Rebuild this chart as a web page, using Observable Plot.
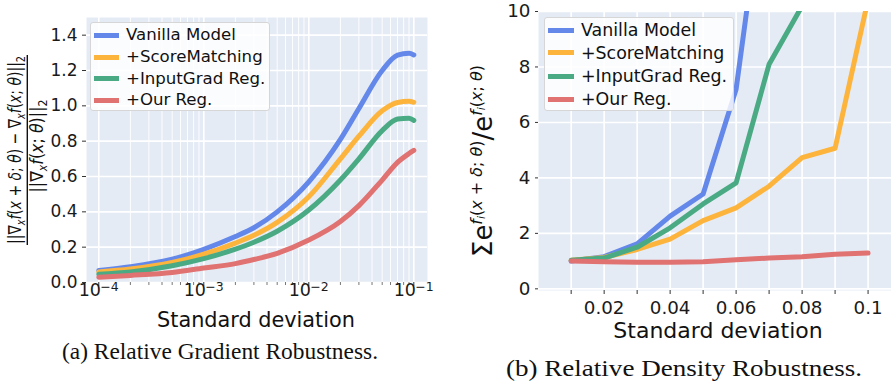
<!DOCTYPE html>
<html><head><meta charset="utf-8">
<script src="https://cdn.jsdelivr.net/npm/d3@7"></script>
<script src="https://cdn.jsdelivr.net/npm/@observablehq/plot@0.6"></script>
<style>
html,body{margin:0;padding:0;background:#fff;}
#root{position:relative;width:891px;height:381px;overflow:hidden;font-family:"DejaVu Sans",sans-serif;}
.panel{position:absolute;top:0;}
.legend{position:absolute;background:rgba(255,255,255,0.82);border:1px solid #d6d6d6;border-radius:3px;box-sizing:border-box;}
.legend .row{position:absolute;left:0;white-space:nowrap;color:#111;}
.legend .sw{position:absolute;height:5px;}
#overlay{position:absolute;left:0;top:0;}
</style></head><body><div id="root"></div>
<script>
// ---------- data ----------
const seriesNames = ["Vanilla Model", "+ScoreMatching", "+InputGrad Reg.", "+Our Reg."];
const seriesColors = ["#6488ea", "#fdb43c", "#4aaa84", "#e07272"];

// (a) Relative gradient robustness (log x)
const gradSigma   = [1e-4, 2e-4, 5e-4, 1e-3, 2e-3, 3e-3, 5e-3, 1e-2, 2e-2, 3e-2, 5e-2, 7e-2, 9e-2, 1e-1];
const gradVanilla = [0.068, 0.089, 0.132, 0.188, 0.260, 0.310, 0.400, 0.570, 0.810, 0.985, 1.200, 1.287, 1.297, 1.288];
const gradScore   = [0.060, 0.076, 0.113, 0.160, 0.223, 0.267, 0.340, 0.485, 0.700, 0.828, 0.972, 1.019, 1.026, 1.020];
const gradInput   = [0.047, 0.060, 0.095, 0.135, 0.189, 0.228, 0.290, 0.410, 0.580, 0.700, 0.860, 0.925, 0.930, 0.918];
const gradOurs    = [0.030, 0.040, 0.057, 0.082, 0.107, 0.130, 0.165, 0.240, 0.345, 0.435, 0.580, 0.680, 0.730, 0.748];
const gradMajorTicks = [1e-4, 1e-3, 1e-2, 1e-1];
const gradTickBase = "10";
const gradTickExps = ["\u22124", "\u22123", "\u22122", "\u22121"];
const gradMinorTicks = [2e-4,3e-4,4e-4,5e-4,6e-4,7e-4,8e-4,9e-4,
                        2e-3,3e-3,4e-3,5e-3,6e-3,7e-3,8e-3,9e-3,
                        2e-2,3e-2,4e-2,5e-2,6e-2,7e-2,8e-2,9e-2];
const gradYTicks = [0, 0.2, 0.4, 0.6, 0.8, 1.0, 1.2, 1.4];

// (b) Relative density robustness (linear x)
const densSigma   = [0.01, 0.02, 0.03, 0.04, 0.05, 0.06, 0.07, 0.08, 0.09, 0.10];
const densVanilla = [1.00, 1.16, 1.62, 2.62, 3.42, 7.20, 16.0];
const densScore   = [1.03, 1.13, 1.42, 1.79, 2.46, 2.92, 3.70, 4.73, 5.07, 10.43];
const densInput   = [1.03, 1.11, 1.50, 2.20, 3.06, 3.82, 8.10, 10.2];
const densOurs    = [1.00, 0.98, 0.96, 0.96, 0.98, 1.05, 1.11, 1.16, 1.25, 1.29];
const densXTicks = [0.01, 0.02, 0.03, 0.04, 0.05, 0.06, 0.07, 0.08, 0.09, 0.10];
const densXLabelTicks = [0.02, 0.04, 0.06, 0.08, 0.10];
const densXLabels = ["0.02", "0.04", "0.06", "0.08", "0.1"];
const densYTicks = [0, 2, 4, 6, 8, 10];

const xTitle = "Standard deviation";
const captionA = "(a) Relative Gradient Robustness.";
const captionB = "(b) Relative Density Robustness.";

// ---------- build ----------
const BG = "#e5ebf5";
const root = document.getElementById("root");
function toRows(xs, ys, name) { return ys.map((v, i) => ({x: xs[i], y: v, s: name})); }
const gradSeries = [gradVanilla, gradScore, gradInput, gradOurs];
const densSeries = [densVanilla, densScore, densInput, densOurs];

const left = Plot.plot({
  width: 450, height: 330,
  marginLeft: 86, marginRight: 23, marginTop: 17, marginBottom: 48,
  style: {fontFamily: "DejaVu Sans", fontSize: "17px", color: "#1a1a1a", background: "transparent", overflow: "visible"},
  x: {type: "log", domain: [7.64e-5, 0.135]},
  y: {domain: [0, 1.5]},
  marks: [
    Plot.frame({fill: BG, stroke: null}),
    Plot.ruleX(gradMinorTicks, {stroke: "white", strokeWidth: 0.9}),
    Plot.ruleX(gradMajorTicks, {stroke: "white", strokeWidth: 1.6}),
    Plot.ruleY(gradYTicks, {stroke: "white", strokeWidth: 1.6}),
    Plot.axisX(gradMinorTicks, {tickFormat: () => "", tickSize: 3, stroke: "#777", label: null}),
    Plot.axisX(gradMajorTicks, {tickFormat: () => "", tickSize: 4, stroke: "#333", label: null}),
    Plot.text(gradMajorTicks, {x: d => d, frameAnchor: "bottom", text: () => gradTickBase, dx: -9, dy: 13.5, fontSize: 17.5, fill: "#1a1a1a"}),
    Plot.text(gradMajorTicks, {x: d => d, frameAnchor: "bottom", text: (d, i) => gradTickExps[i], textAnchor: "start", dx: 1.5, dy: 8.5, fontSize: 12.5, fill: "#1a1a1a"}),
    Plot.axisY(gradYTicks, {tickFormat: d3.format(".1f"), tickSize: 4, tickPadding: 5, stroke: "#333", label: null, fontSize: 17}),
    ...gradSeries.map((ys, k) => Plot.line(toRows(gradSigma, ys, seriesNames[k]), {x: "x", y: "y", stroke: seriesColors[k], strokeWidth: 5, curve: "monotone-x"}))
  ]
});
left.classList.add("panel");
left.style.left = "0px";
root.appendChild(left);

const right = Plot.plot({
  width: 441, height: 340,
  marginLeft: 88, marginRight: 0, marginTop: 11, marginBottom: 50,
  style: {fontFamily: "DejaVu Sans", fontSize: "18px", color: "#1a1a1a", background: "transparent", overflow: "visible"},
  x: {domain: [0.0001, 0.1071]},
  y: {domain: [-0.06, 10]},
  marks: [
    Plot.frame({fill: BG, stroke: null}),
    Plot.ruleX(densXTicks, {stroke: "white", strokeWidth: 1.6}),
    Plot.ruleY(densYTicks, {stroke: "white", strokeWidth: 1.6}),
    Plot.axisX(densXTicks, {tickFormat: () => "", tickSize: 4, stroke: "#333", label: null}),
    Plot.axisX(densXLabelTicks, {tickFormat: d => densXLabels[densXLabelTicks.indexOf(d)], tickSize: 0, tickPadding: 10, label: null, fontSize: 18.3}),
    Plot.axisY(densYTicks, {tickFormat: d => String(d), tickSize: 3, tickPadding: 5, stroke: "#333", label: null, fontSize: 18.3}),
    ...densSeries.map((ys, k) => Plot.line(toRows(densSigma, ys, seriesNames[k]), {x: "x", y: "y", stroke: seriesColors[k], strokeWidth: 5, clip: true}))
  ]
});
right.classList.add("panel");
right.style.left = "450px";
root.appendChild(right);

// legends
function legend(box, fontSize, rowY, swX0, swX1, textX) {
  const d = document.createElement("div");
  d.className = "legend";
  Object.assign(d.style, {left: box[0] + "px", top: box[1] + "px", width: box[2] + "px", height: box[3] + "px"});
  seriesNames.forEach((name, k) => {
    const sw = document.createElement("div");
    sw.className = "sw";
    Object.assign(sw.style, {left: swX0 + "px", width: (swX1 - swX0) + "px", top: (rowY[k] - 2.5) + "px", background: seriesColors[k]});
    d.appendChild(sw);
    const t = document.createElement("div");
    t.className = "row";
    t.textContent = name;
    Object.assign(t.style, {left: textX + "px", top: (rowY[k] - 12) + "px", lineHeight: "24px", fontSize: fontSize + "px"});
    d.appendChild(t);
  });
  root.appendChild(d);
}
legend([90, 22, 180, 89], 16.6, [12.3, 34, 55.7, 77.3], 3, 28, 35);
legend([544, 17, 190, 94], 17.4, [12.3, 34.7, 58, 81.3], 2.7, 29.3, 36);

// overlay: titles & captions
const NS = "http://www.w3.org/2000/svg";
const ov = document.createElementNS(NS, "svg");
ov.setAttribute("id", "overlay");
ov.setAttribute("width", 891); ov.setAttribute("height", 381);
root.appendChild(ov);
function el(parent, tag, attrs, text) {
  const e = document.createElementNS(NS, tag);
  for (const k in attrs) e.setAttribute(k, attrs[k]);
  if (text != null) e.textContent = text;
  parent.appendChild(e);
  return e;
}
function mathText(parent, x, y, segs, attrs) {
  const t = el(parent, "text", Object.assign({x, y, "text-anchor": "middle", "font-family": "DejaVu Sans", fill: "#111"}, attrs || {}));
  let prev = 0;
  segs.forEach(([txt, size, off, it]) => {
    const ts = el(t, "tspan", {"font-size": size, dy: off - prev}, txt);
    if (it) ts.setAttribute("font-style", "italic");
    prev = off;
  });
  return t;
}
el(ov, "text", {x: 256, y: 327, "text-anchor": "middle", "font-family": "DejaVu Sans", "font-size": 20.8, fill: "#111"}, xTitle);
el(ov, "text", {x: 718, y: 338, "text-anchor": "middle", "font-family": "DejaVu Sans", "font-size": 22, fill: "#111"}, xTitle);

// left y title: fraction
const gA = el(ov, "g", {transform: "translate(27.3,150) rotate(-90)"});
el(gA, "line", {x1: -95, x2: 95, y1: 0, y2: 0, stroke: "#111", "stroke-width": 1.4});
const S = 18, s = 12.5;
mathText(gA, 0, -6, [
  ["||\u2207", S, 0], ["x", s, 3.5, true], ["f", S, 0, true], ["(", S, 0], ["x", S, 0, true], [" + ", S, 0], ["\u03B4", S, 0, true], ["; ", S, 0], ["\u03B8", S, 0, true], [") \u2212 \u2207", S, 0],
  ["x", s, 3.5, true], ["f", S, 0, true], ["(", S, 0], ["x", S, 0, true], ["; ", S, 0], ["\u03B8", S, 0, true], [")||", S, 0], ["2", s, 3.5]
], {textLength: 188, lengthAdjust: "spacingAndGlyphs"});
mathText(gA, 4, 16, [
  ["||\u2207", S, 0], ["x", s, 3.5, true], ["f", S, 0, true], ["(", S, 0], ["x", S, 0, true], ["; ", S, 0], ["\u03B8", S, 0, true], [")||", S, 0], ["2", s, 3.5]
], {textLength: 93, lengthAdjust: "spacingAndGlyphs"});

// right y title
const gB = el(ov, "g", {transform: "translate(492,161) rotate(-90)"});
const B = 26, P = 16, q = 11;
mathText(gB, 0, 0, [
  ["\u03A3e", B, 0], ["f", P, -10.5, true], ["i", q, -7.5, true], ["(", P, -10.5], ["x", P, -10.5, true], [" + ", P, -10.5], ["\u03B4", P, -10.5, true], ["; ", P, -10.5], ["\u03B8", P, -10.5, true], [")", P, -10.5],
  ["/e", B, 0], ["f", P, -10.5, true], ["i", q, -7.5, true], ["(", P, -10.5], ["x", P, -10.5, true], ["; ", P, -10.5], ["\u03B8", P, -10.5, true], [")", P, -10.5]
], {textLength: 192, lengthAdjust: "spacingAndGlyphs"});

// captions
el(ov, "text", {x: 62, y: 359, "font-family": "Liberation Serif", "font-size": 23, fill: "#111", textLength: 316, lengthAdjust: "spacingAndGlyphs"}, captionA);
el(ov, "text", {x: 506, y: 376, "font-family": "Liberation Serif", "font-size": 24, fill: "#111", textLength: 356, lengthAdjust: "spacingAndGlyphs"}, captionB);
</script></body></html>
